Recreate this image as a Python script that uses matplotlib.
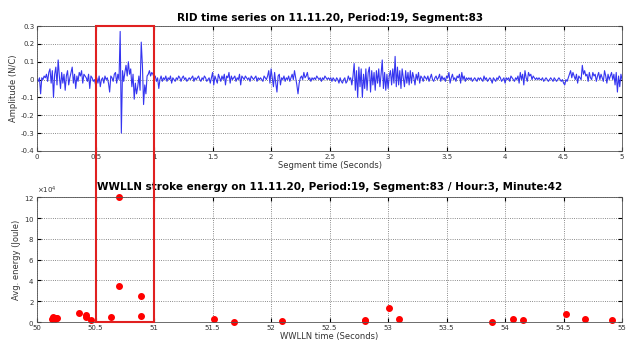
import numpy as np
import matplotlib.pyplot as plt
from matplotlib.patches import Rectangle

## Data

# RID amplitude (N/C), one value every 0.01 s from 0 to 5 s
amp = [
    0.00, -0.01, 0.01, -0.08, 0.01, 0.00, 0.02, 0.01, 0.03, -0.01,
    0.04, 0.06, -0.02, 0.05, -0.10, 0.03, 0.07, -0.03, 0.11, 0.02,
    -0.05, 0.04, -0.02, 0.03, -0.06, 0.02, 0.05, -0.03, 0.01, 0.04,
    0.07, -0.02, 0.03, -0.05, 0.02, -0.01, 0.04, 0.02, 0.05, -0.02,
    0.03, 0.02, 0.01, -0.01, 0.03, -0.05, 0.02, 0.01, -0.01, 0.00,
    -0.03, 0.01, -0.02, 0.02, -0.04, 0.00, 0.01, -0.02, 0.02, 0.00,
    0.01, -0.02, -0.07, 0.02, 0.01, -0.01, 0.03, 0.04, -0.02, 0.03,
    0.00, 0.27, -0.30, 0.05, -0.01, 0.04, 0.08, 0.02, 0.10, 0.03,
    0.06, -0.04, 0.03, -0.11, -0.02, -0.08, -0.04, 0.02, -0.06, 0.21,
    0.08, -0.14, -0.03, -0.08, 0.02, 0.03, 0.05, 0.02, 0.04, 0.03,
    0.01, 0.02, -0.01, 0.01, -0.05, 0.00, 0.02, -0.01, 0.01, 0.00,
    0.02, -0.01, 0.01, 0.00, 0.02, -0.02, 0.01, 0.00, -0.01, 0.01,
    0.00, 0.02, 0.01, -0.01, 0.01, 0.02, 0.00, 0.01, -0.01, 0.00,
    0.01, 0.00, 0.01, 0.02, -0.01, 0.01, 0.00, 0.01, 0.02, 0.00,
    -0.01, 0.01, 0.00, 0.02, 0.01, -0.01, 0.00, 0.01, -0.02, 0.01,
    0.04, -0.03, 0.02, 0.00, -0.02, 0.03, 0.01, -0.01, 0.02, 0.00,
    0.03, -0.03, 0.02, 0.01, 0.04, -0.02, 0.02, 0.00, 0.01, 0.02,
    -0.01, 0.01, 0.00, 0.03, -0.03, 0.02, 0.01, 0.00, 0.02, 0.01,
    0.00, 0.01, -0.01, 0.02, 0.01, 0.00, 0.01, 0.02, -0.01, 0.01,
    0.00, 0.01, 0.00, -0.01, 0.02, 0.01, 0.00, 0.02, 0.05, -0.02,
    0.06, 0.01, -0.04, 0.04, -0.02, -0.07, 0.02, 0.03, -0.03, 0.01,
    0.00, 0.02, -0.01, 0.01, 0.00, 0.02, -0.01, 0.01, 0.03, 0.00,
    0.05, 0.01, -0.03, -0.08, -0.02, 0.01, 0.02, 0.00, 0.04, 0.01,
    0.02, 0.04, 0.00, 0.01, -0.01, 0.01, 0.00, 0.01, 0.00, 0.02,
    0.01, 0.00, 0.01, -0.01, 0.01, 0.00, 0.02, 0.01, 0.00, 0.01,
    0.00, 0.01, -0.01, 0.01, 0.00, -0.01, 0.01, 0.00, -0.02, 0.01,
    -0.01, -0.02, 0.00, 0.01, -0.02, -0.01, 0.02, 0.00, 0.01, -0.03,
    0.02, 0.09, -0.06, 0.05, -0.10, 0.07, -0.04, 0.06, -0.10, 0.03,
    -0.05, 0.06, -0.06, 0.04, 0.07, -0.07, 0.05, -0.03, 0.04, -0.06,
    0.05, -0.02, 0.06, -0.04, 0.03, 0.11, -0.05, 0.04, -0.06, 0.03,
    -0.05, 0.02, 0.05, -0.03, 0.06, -0.02, 0.13, -0.04, 0.07, -0.03,
    0.05, -0.05, 0.06, 0.01, -0.04, 0.05, -0.02, 0.04, -0.03, 0.05,
    -0.02, 0.04, 0.01, -0.03, 0.03, 0.00, 0.04, -0.02, 0.02, 0.01,
    -0.01, 0.02, 0.01, 0.00, 0.02, -0.01, 0.01, 0.03, 0.00, -0.01,
    0.01, 0.02, 0.00, 0.01, 0.03, -0.01, 0.02, 0.00, 0.01, -0.01,
    0.02, 0.01, 0.04, -0.02, 0.01, 0.03, 0.00, 0.01, -0.01, 0.02,
    0.01, 0.03, -0.02, 0.04, 0.00, 0.02, -0.01, 0.01, 0.00, 0.01,
    0.00, 0.01, -0.01, 0.00, 0.01, 0.00, -0.01, 0.01, 0.00, 0.01,
    0.00, -0.01, 0.02, 0.00, 0.01, -0.01, 0.00, 0.01, 0.00, -0.02,
    0.01, 0.00, -0.01, 0.01, 0.00, 0.02, 0.01, -0.01, 0.00, 0.01,
    -0.02, 0.01, 0.00, 0.01, -0.01, 0.02, 0.01, 0.00, -0.01, 0.01,
    0.00, 0.02, -0.02, 0.04, 0.00, 0.03, -0.03, 0.05, 0.01, -0.01,
    0.04, 0.02, 0.03, 0.00, 0.02, 0.01, 0.00, 0.01, 0.00, 0.01,
    0.00, 0.00, 0.01, -0.01, 0.00, 0.01, 0.00, -0.01, 0.00, 0.01,
    0.00, -0.01, 0.01, 0.00, -0.01, 0.00, 0.01, 0.00, -0.01, 0.00,
    -0.02, -0.03, 0.00, -0.01, 0.01, 0.03, 0.05, 0.01, 0.04, 0.02,
    0.00, 0.03, -0.02, 0.02, 0.01, 0.00, 0.08, 0.03, 0.05, 0.02,
    0.03, -0.01, 0.04, 0.01, 0.00, 0.04, 0.02, 0.03, -0.01, 0.02,
    0.04, 0.00, 0.03, 0.01, -0.01, 0.05, 0.02, -0.02, 0.03, 0.00,
    0.02, 0.04, 0.00, 0.03, -0.03, 0.04, -0.07, 0.02, -0.04, 0.03,
    0.00,
]
seg_time = np.arange(len(amp)) * 0.01

# WWLLN strokes: time (s) and energy (Joule)
stroke_time = [50.13, 50.14, 50.15, 50.16, 50.17, 50.36, 50.42, 50.42, 50.46,
               50.63, 50.70, 50.70, 50.89, 50.89, 51.51, 51.68, 52.09,
               52.80, 52.80, 53.01, 53.09, 53.89, 54.07, 54.15, 54.52,
               54.68, 54.91]
stroke_energy = [3000, 5000, 2500, 4000, 3500, 9000, 7000, 5000, 2000,
                 5000, 120000, 35000, 25000, 6000, 3000, 300, 1000,
                 1000, 2000, 14000, 3000, 300, 3000, 2000, 8000,
                 3000, 2000]

## Figure layout (MATLAB-like)
fig = plt.figure(figsize=(6.29, 3.43), dpi=100)
left, width, height = 0.059, 0.930, 0.364
ax1 = fig.add_axes([left, 0.560, width, height])
ax2 = fig.add_axes([left, 0.061, width, height])

## Top: RID time series
ax1.plot(seg_time, amp, '-', color='#3535f0', lw=0.8)
ax1.set_xlim(0, 5)
ax1.set_ylim(-0.4, 0.3)
ax1.set_xticks(np.arange(0, 5.01, 0.5))
ax1.set_xticklabels(['0', '0.5', '1', '1.5', '2', '2.5', '3', '3.5', '4', '4.5', '5'])
ax1.set_yticks(np.arange(-0.4, 0.31, 0.1))
ax1.set_yticklabels(['-0.4', '-0.3', '-0.2', '-0.1', '0', '0.1', '0.2', '0.3'])
ax1.set_title('RID time series on 11.11.20, Period:19, Segment:83',
              fontsize=7.5, fontweight='bold', pad=4)
ax1.set_xlabel('Segment time (Seconds)', fontsize=6, labelpad=1, color='#333333')
ax1.set_ylabel('Amplitude (N/C)', fontsize=6, labelpad=2, color='#333333')

## Bottom: WWLLN stroke energy
ax2.plot(stroke_time, stroke_energy, 'o', color='red', markersize=4, clip_on=False)
ax2.set_xlim(50, 55)
ax2.set_ylim(0, 120000)
ax2.set_xticks(np.arange(50, 55.01, 0.5))
ax2.set_xticklabels(['50', '50.5', '51', '51.5', '52', '52.5', '53', '53.5', '54', '54.5', '55'])
ax2.set_yticks(np.arange(0, 120001, 20000))
ax2.ticklabel_format(axis='y', style='sci', scilimits=(4, 4), useMathText=True)
ax2.yaxis.get_offset_text().set_fontsize(5)
ax2.set_title('WWLLN stroke energy on 11.11.20, Period:19, Segment:83 / Hour:3, Minute:42',
              fontsize=7.5, fontweight='bold', pad=5)
ax2.set_xlabel('WWLLN time (Seconds)', fontsize=6, labelpad=1, color='#333333')
ax2.set_ylabel('Avg. energy (Joule)', fontsize=6, labelpad=2, color='#333333')

for ax in (ax1, ax2):
    ax.grid(True, linestyle=':', color='#666666', lw=0.6)
    ax.tick_params(direction='in', top=True, right=True, labelsize=5, length=3, pad=2,
                   labelcolor='#333333')
    for s in ax.spines.values():
        s.set_linewidth(0.6)
        s.set_color('#555555')

## Red box marking 0.5-1 s across both panels
x0 = left + width * 0.5 / 5
x1 = left + width * 1.0 / 5
y0 = 0.061
y1 = 0.560 + height
fig.add_artist(Rectangle((x0, y0), x1 - x0, y1 - y0, transform=fig.transFigure,
                         fill=False, edgecolor='#e02020', lw=1.5))

fig.savefig('out.png', dpi=100)
